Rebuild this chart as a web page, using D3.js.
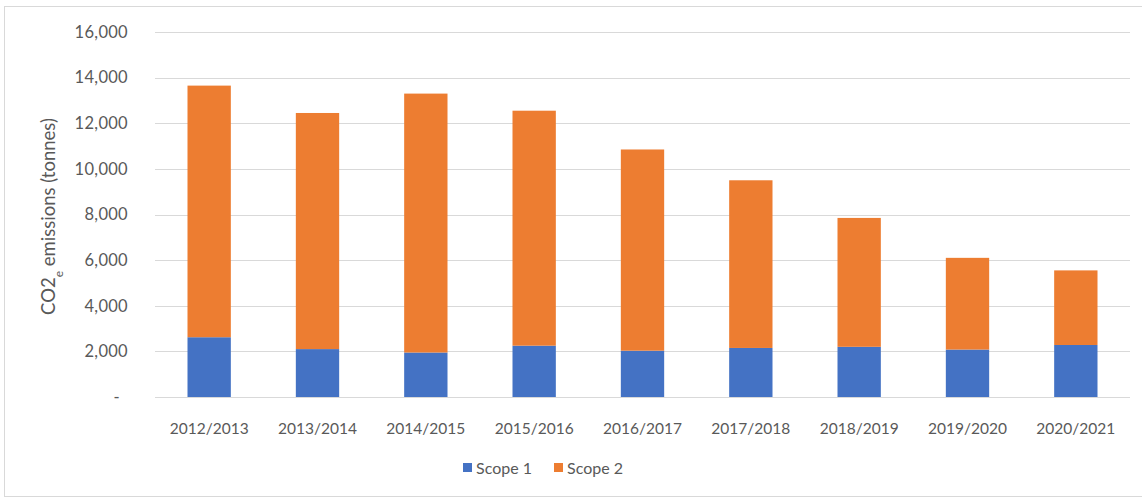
<!DOCTYPE html>
<html>
<head>
<meta charset="utf-8">
<script src="https://cdn.jsdelivr.net/npm/d3@7"></script>
<style>
  html, body { margin: 0; padding: 0; background: #fff; }
  svg { display: block; }
  text { font-family: "Lato", "Open Sans", sans-serif; fill: #595959; }
</style>
</head>
<body>
<svg id="chart" width="1142" height="501"></svg>
<script>
// Reporting years
const years = ["2012/2013", "2013/2014", "2014/2015", "2015/2016", "2016/2017",
               "2017/2018", "2018/2019", "2019/2020", "2020/2021"];
// Emissions in tonnes CO2e
const scope1 = [2620, 2100, 1950, 2250, 2030, 2150, 2200, 2080, 2280];
const scope2 = [11030, 10350, 11350, 10300, 8820, 7350, 5650, 4020, 3270];
const seriesNames = ["Scope 1", "Scope 2"];
const seriesColors = ["#4472C4", "#ED7D31"];
const yTicks = [0, 2000, 4000, 6000, 8000, 10000, 12000, 14000, 16000];

const svg = d3.select("#chart");
const W = 1142, H = 501;
const margin = { left: 155, right: 12, top: 32, bottom: 104 };

// outer chart frame
svg.append("rect")
  .attr("x", 4.5).attr("y", 6.5)
  .attr("width", W + 10).attr("height", 490)
  .attr("fill", "#fff").attr("stroke", "#d9d9d9").attr("stroke-width", 1);

const x = d3.scaleBand()
  .domain(years)
  .range([margin.left, W - margin.right])
  .paddingInner(0.6).paddingOuter(0.3);

const y = d3.scaleLinear()
  .domain([0, 16000])
  .range([H - margin.bottom, margin.top]);

// gridlines
svg.append("g")
  .selectAll("line")
  .data(yTicks)
  .join("line")
  .attr("x1", margin.left).attr("x2", W - margin.right)
  .attr("y1", d => Math.round(y(d)) + 0.5).attr("y2", d => Math.round(y(d)) + 0.5)
  .attr("stroke", "#d9d9d9").attr("stroke-width", 1.2);

// y axis labels
const fmt = d => d === 0 ? "-" : d3.format(",")(d);
const yAxis = d3.axisLeft(y).tickValues(yTicks).tickFormat(fmt).tickSize(0).tickPadding(0);
const gy = svg.append("g").attr("transform", `translate(128,0)`).call(yAxis);
gy.select(".domain").remove();
gy.selectAll("text")
  .style("font-size", "16.5px")
  .style("font-family", "Lato, sans-serif")
  .style("letter-spacing", "0.3px")
  .attr("fill", "#595959")
  .attr("dx", d => d === 0 ? -8 : 0);

// stacked bars
const rows = years.map((yr, i) => ({ year: yr, "Scope 1": scope1[i], "Scope 2": scope2[i] }));
const stack = d3.stack().keys(seriesNames)(rows);

svg.append("g")
  .selectAll("g")
  .data(stack)
  .join("g")
  .attr("fill", (d, i) => seriesColors[i])
  .selectAll("rect")
  .data(d => d)
  .join("rect")
  .attr("x", d => x(d.data.year))
  .attr("width", x.bandwidth())
  .attr("y", d => y(d[1]))
  .attr("height", d => y(d[0]) - y(d[1]));

// x axis labels
const xAxis = d3.axisBottom(x).tickSize(0).tickPadding(0);
const gx = svg.append("g").attr("transform", `translate(0,${H - margin.bottom})`).call(xAxis);
gx.select(".domain").remove();
gx.selectAll("text")
  .attr("y", 37)
  .attr("dy", 0)
  .style("font-size", "15.5px")
  .style("font-family", "Lato, sans-serif")
  .attr("fill", "#595959");

// y axis title with subscript e
const title = svg.append("text")
  .attr("transform", `translate(55,${y(8000) + 2}) rotate(-90)`)
  .attr("text-anchor", "middle")
  .style("font-size", "18.5px");
title.append("tspan").text("CO2");
title.append("tspan").attr("baseline-shift", "sub").style("font-size", "12px").text("e");
title.append("tspan").text(" emissions (tonnes)");

// legend
const legendX = [463, 554];
const legend = svg.append("g");
seriesNames.forEach((name, i) => {
  legend.append("rect")
    .attr("x", legendX[i]).attr("y", 463)
    .attr("width", 9).attr("height", 9)
    .attr("fill", seriesColors[i]);
  legend.append("text")
    .attr("x", legendX[i] + 13).attr("y", 474)
    .style("font-size", "16px")
    .text(name);
});
</script>
</body>
</html>
